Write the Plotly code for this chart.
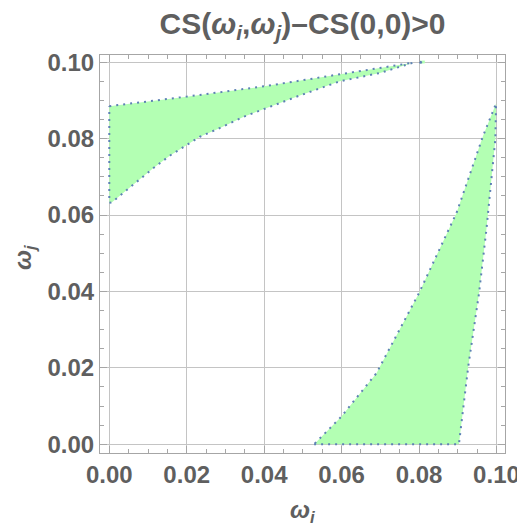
import plotly.graph_objects as go

# Region 1 (upper-left): upper boundary then lower boundary (reversed), closed along x=0
reg1_x = [0.0, 0.0200, 0.0400, 0.0595, 0.0785, 0.0699, 0.0595, 0.0492, 0.0400, 0.0346, 0.0286,
          0.0234, 0.0198, 0.0157, 0.0114, 0.0062, 0.0006, 0.0, 0.0]
reg1_y = [0.0885, 0.0910, 0.0937, 0.0968, 0.0999, 0.0972, 0.0950, 0.0913, 0.0878, 0.0857, 0.0828,
          0.0805, 0.0782, 0.0756, 0.0723, 0.0680, 0.0633, 0.0632, 0.0885]

# Region 2 (lower-right): bottom edge, right edge up, left curve down
reg2_x = [0.0529, 0.0903, 0.0927, 0.0955, 0.0974, 0.0997, 0.0999, 0.0965, 0.0897, 0.0800, 0.0690, 0.0599, 0.0529]
reg2_y = [0.0, 0.0, 0.0203, 0.0396, 0.0562, 0.0798, 0.0892, 0.0806, 0.0606, 0.0396, 0.0186, 0.0072, 0.0]

# Small isolated sliver near the top
dot_x = [0.0804, 0.0815]
dot_y = [0.1000, 0.1001]

tick_vals = [0.0, 0.02, 0.04, 0.06, 0.08, 0.10]
tick_text = ["0.00", "0.02", "0.04", "0.06", "0.08", "0.10"]

FILL = "#b3ffb3"
EDGE = "#5e81b5"
TXT = "#5f5f5f"
FONT = "Liberation Sans"

# page body has an 8px default margin, so the figure is 8px smaller than the window
W, H, PAD = 525, 527, 8

fig = go.Figure()
for xs, ys in [(reg1_x, reg1_y), (reg2_x, reg2_y)]:
    fig.add_trace(go.Scatter(x=xs, y=ys, mode="lines", fill="toself", fillcolor=FILL,
                             line=dict(color=EDGE, width=2, dash="2px,5px"),
                             hoverinfo="skip", showlegend=False))
fig.add_trace(go.Scatter(x=dot_x, y=dot_y, mode="lines", line=dict(color=FILL, width=3),
                         showlegend=False, hoverinfo="skip"))
fig.add_trace(go.Scatter(x=dot_x[:1], y=dot_y[:1], mode="markers",
                         marker=dict(color=EDGE, size=3), showlegend=False, hoverinfo="skip"))

axis_common = dict(
    tickvals=tick_vals, ticktext=tick_text,
    tickfont=dict(family=FONT, size=24, color=TXT, weight="bold"),
    showgrid=True, gridcolor="#c4c4c4", gridwidth=1,
    showline=True, linecolor="#a6a6a6", linewidth=1, mirror="allticks",
    ticks="inside", ticklen=7, tickcolor="#a6a6a6", tickwidth=1,
    minor=dict(dtick=0.005, tick0=0, ticks="inside", ticklen=4, tickcolor="#a6a6a6", showgrid=False),
    zeroline=False, automargin=False,
)

fig.update_xaxes(range=[-0.0024, 0.1022], **axis_common)
fig.update_yaxes(range=[-0.0023, 0.1019], **axis_common)

fig.update_layout(
    width=W - PAD, height=H - PAD,
    margin=dict(l=100 - PAD, r=20, t=55 - PAD, b=74),
    plot_bgcolor="white", paper_bgcolor="white",
    title=dict(text="<b>CS(<i>ω</i><sub><i>i</i></sub>,<i>ω</i><sub><i>j</i></sub>)–CS(0,0)>0</b>",
               x=0.5, xref="paper", xanchor="center",
               y=1 - (23 - PAD) / (H - PAD), yref="container", yanchor="middle",
               font=dict(family=FONT, size=30, color=TXT)),
    annotations=[
        dict(text="<b><i>ω</i><sub><i>i</i></sub></b>", xref="paper", yref="paper",
             x=0.5, y=-0.148, xanchor="center", yanchor="middle", showarrow=False,
             font=dict(family=FONT, size=24, color=TXT)),
        dict(text="<b><i>ω</i><sub><i>j</i></sub></b>", xref="paper", yref="paper",
             x=-0.185, y=0.49, xanchor="center", yanchor="middle", showarrow=False,
             textangle=-90, font=dict(family=FONT, size=24, color=TXT)),
    ],
)

fig.write_html("out.html")
